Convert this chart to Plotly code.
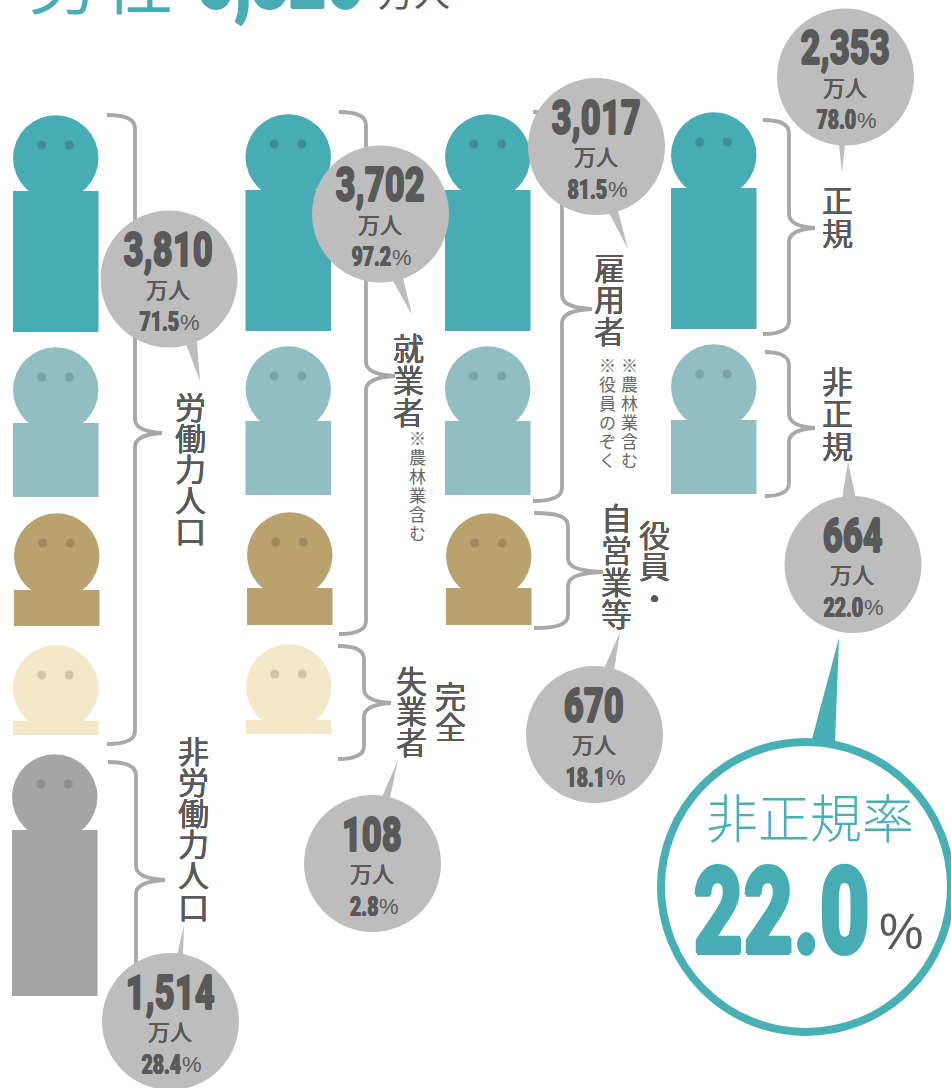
import plotly.graph_objects as go

# ---------- data ----------
BUBBLE_VALUES = ["3,810", "1,514", "3,702", "108", "3,017", "670", "2,353", "664"]
BUBBLE_PCTS = ["71.5", "28.4", "97.2", "2.8", "81.5", "18.1", "78.0", "22.0"]
BUBBLE_UNIT = "万人"
RATE_LABEL = "非正規率"
RATE_VALUE = "22.0"
TITLE_LABEL = "男性"
TITLE_VALUE = "5,326"

# group, column x-left, head centre y, body top, body bottom
TEAL, LIGHT, TAN, CREAM, GREY = "#48ACB5", "#91BEC2", "#BAA26F", "#F3E9C8", "#A5A5A5"
EYE = {TEAL: "#3F8D97", LIGHT: "#7DA3A6", TAN: "#9E8A5E", CREAM: "#CFC6A9", GREY: "#8E8E8E"}
PERSON_COLOR = [TEAL, LIGHT, TAN, CREAM, GREY, TEAL, LIGHT, TAN, CREAM, TEAL, LIGHT, TAN, TEAL, LIGHT]
PERSON_LEFT = [13, 13, 14, 13, 12, 245.5, 245.5, 247, 246, 445, 445, 446, 671, 671]
PERSON_HEAD = [158, 390, 556, 688, 797, 157, 389, 555, 687, 157, 389, 556, 155, 387]
PERSON_TOP = [191, 423, 590, 721, 830, 190, 421, 588, 720, 190, 421, 588, 188, 420]
PERSON_BOTTOM = [332, 497, 626, 735, 996, 331, 495, 625, 734, 331, 495, 625, 329, 494]

# ---------- layout geometry ----------
W, H = 951, 1088
BUBBLE_X = [169, 170.5, 380.5, 372.5, 596.5, 594.5, 845.5, 853]
BUBBLE_Y = [279, 1021.5, 214, 863.5, 146.5, 734.5, 77, 564.5]
BUBBLE_TAILS = [
    [(186, 344), (197, 342), (200, 381)],
    [(177, 955), (183, 955), (184, 925)],
    [(393, 281), (403, 278), (412, 315)],
    [(382, 797), (390, 798), (398, 760)],
    [(609, 213), (618, 211), (628, 249)],
    [(603, 671), (614, 671), (620, 632)],
    [(839, 144), (845, 144), (842, 173)],
    [(842, 499), (856, 499), (848, 462)],
]
BRACES = [  # start x, spine x, tip x, top, tip y, bottom
    (107, 135, 162, 115, 433, 744),
    (108, 136, 165, 762, 880, 1010),
    (339, 366, 395, 112, 376, 634),
    (338, 364, 391, 646, 703, 759),
    (533, 562, 592, 112, 309, 501),
    (534, 568, 603, 513, 572, 628),
    (763, 789, 815, 120, 228, 334),
    (765, 789, 815, 352, 428, 496),
]
LABELS = [  # characters, x, first char y, step
    ("労働力人口", 190, 405, 31.2),
    ("非労働力人口", 193, 749, 31.2),
    ("就業者", 408, 346, 32),
    ("失業者", 411, 679, 30.7),
    ("完全", 450, 694, 31),
    ("雇用者", 609, 266, 31.5),
    ("自営業等", 616, 516, 32.3),
    ("役員・", 654, 533, 31.5),
    ("正規", 837, 198, 33),
    ("非正規", 837, 379, 32.5),
]
NOTES = [
    ("※農林業含む", 417, 437, 19),
    ("※農林業含む", 629, 364, 19),
    ("※役員のぞく", 607, 364, 19),
]

INK = "#595959"
BUBBLE = "#BDBDBD"
BRACE = "#A8A8A8"
RING = "#48B0B5"
HEAVY = "Roboto"


def heavy(px, color=INK):
    return ", ".join(f"{dx}px {dy}px 0 {color}" for dx, dy in
                     [(px, 0), (-px, 0), (0, px), (0, -px)])


fig = go.Figure()
annotations = []
shapes = []


def text(x, y, s, size, color=INK, family="Noto Sans CJK JP", anchor="center", weight=400, shadow=None, paper=False):
    font = dict(size=size, color=color, family=family, weight=weight)
    if shadow:
        font["shadow"] = shadow
    annotations.append(dict(x=x, y=(1 - y / H) if paper else y, xref="x", yref="paper" if paper else "y",
                            text=s, showarrow=False, xanchor=anchor,
                            yanchor="middle", font=font, borderpad=0, borderwidth=0))


# braces
for x0, xs, xt, top, ym, bot in BRACES:
    shapes.append(dict(
        type="path", layer="below", xref="x", yref="y",
        line=dict(color=BRACE, width=3.8),
        path=(f"M {x0} {top} C {xs-12} {top} {xs} {top+3} {xs} {top+13} "
              f"L {xs} {ym-14} C {xs} {ym-5} {xs+10} {ym-1} {xt} {ym} "
              f"C {xs+10} {ym+1} {xs} {ym+5} {xs} {ym+14} "
              f"L {xs} {bot-13} C {xs} {bot-3} {xs-12} {bot} {x0} {bot}")))

# people: heads, bodies, eyes
PW = 85.5
for i, c in enumerate(PERSON_COLOR):
    cx = PERSON_LEFT[i] + PW / 2
    fig.add_trace(go.Scatter(x=[cx], y=[PERSON_HEAD[i]], mode="markers",
                             marker=dict(size=85.5, color=c, line=dict(width=0))))
    fig.add_trace(go.Bar(x=[cx], y=[PERSON_BOTTOM[i] - PERSON_TOP[i]], base=[PERSON_TOP[i]], width=[PW],
                         marker=dict(color=c, line=dict(width=0))))
    fig.add_trace(go.Scatter(x=[cx - 14, cx + 13.5], y=[PERSON_HEAD[i] - 13] * 2, mode="markers",
                             marker=dict(size=9, color=EYE[c], line=dict(width=0))))

# big ring and its tail
fig.add_trace(go.Scatter(x=[812, 835, 839, 812], y=[739, 743, 638, 739], mode="lines", fill="toself",
                         fillcolor=RING, line=dict(width=0)))
fig.add_trace(go.Scatter(x=[806], y=[887], mode="markers", cliponaxis=False,
                         marker=dict(size=290, color="white", line=dict(color=RING, width=8))))

# bubbles
for i, tail in enumerate(BUBBLE_TAILS):
    xs = [p[0] for p in tail] + [tail[0][0]]
    ys = [p[1] for p in tail] + [tail[0][1]]
    fig.add_trace(go.Scatter(x=xs, y=ys, mode="lines", fill="toself", fillcolor=BUBBLE, line=dict(width=0)))
fig.add_trace(go.Scatter(x=BUBBLE_X, y=BUBBLE_Y, mode="markers", cliponaxis=False,
                         marker=dict(size=137, color=BUBBLE, line=dict(width=0))))

for x, y, v, p in zip(BUBBLE_X, BUBBLE_Y, BUBBLE_VALUES, BUBBLE_PCTS):
    text(x - 1, y - 29.5, v, 48, family=HEAVY, weight=900, shadow=heavy(0.6))
    text(x - 1, y + 8.5, BUBBLE_UNIT, 22, shadow=heavy(0.15))
    split = x + (10 if len(p) == 4 else 5)
    text(split, y + 43, p, 27, family=HEAVY, weight=900, anchor="right", shadow=heavy(0.35))
    text(split + 1, y + 43, "%", 22, family="Liberation Sans", anchor="left")

# vertical labels, one glyph at a time
for chars, x, y0, step in LABELS:
    for k, ch in enumerate(chars):
        text(x, y0 + k * step, ch, 31, shadow=heavy(0.1))
for chars, x, y0, step in NOTES:
    for k, ch in enumerate(chars):
        text(x, y0 + k * step, ch, 17, color="#666666")

# ring texts
text(810, 815, RATE_LABEL, 52, color=RING, weight=300)
text(781, 912, RATE_VALUE, 120, color=TEAL, family=HEAVY, weight=900, shadow=heavy(1.6, TEAL))
text(901, 932, "%", 50, family="Liberation Sans", color=INK)

# clipped title
text(63, -21, TITLE_LABEL[0], 68, color=TEAL, paper=True)
text(139, -21, TITLE_LABEL[1], 68, color=TEAL, paper=True)
text(280, -22, TITLE_VALUE, 89, color=TEAL, family=HEAVY, weight=900, shadow=heavy(1.2, TEAL), paper=True)
text(414, -9, BUBBLE_UNIT, 36, paper=True)

fig.update_layout(
    width=W, height=H, margin=dict(l=0, r=0, t=0, b=0, pad=0),
    paper_bgcolor="white", plot_bgcolor="rgba(0,0,0,0)", showlegend=False,
    xaxis=dict(range=[0, W], visible=False, fixedrange=True),
    yaxis=dict(range=[H, 0], visible=False, fixedrange=True),
    barmode="overlay", annotations=annotations, shapes=shapes,
)
# Roboto Black is wider than the poster's condensed numerals: narrow the numeric labels only.
POST = """
document.body.style.margin='0';document.body.style.overflow='hidden';
document.querySelectorAll('.annotation-text').forEach(function(t){
  if(!/^[0-9][0-9,.]*$/.test(t.textContent)) return;
  var pct = Math.round(parseFloat(t.style.fontSize)) === 27;
  t.style.transformBox='fill-box';
  t.style.transformOrigin = pct ? 'right center' : 'center center';
  t.style.transform='scaleX(0.72)';
});
"""
fig.write_html("out.html", post_script=POST, config={"displayModeBar": False})
